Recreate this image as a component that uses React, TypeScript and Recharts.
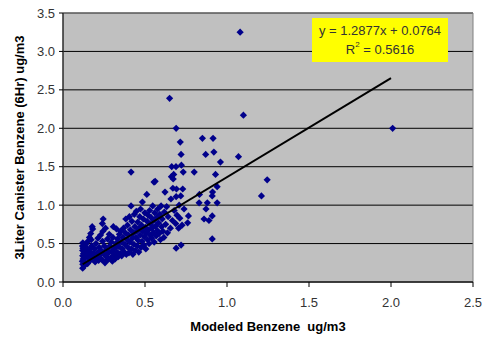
import { ScatterChart, Scatter, XAxis, YAxis, CartesianGrid, ReferenceArea } from 'recharts'

// Modeled benzene (x) vs 3L canister benzene (y), ug/m3
const lowCluster: [number, number][] = [
  [0.12, 0.18], [0.121, 0.23], [0.118, 0.27], [0.123, 0.3], [0.12, 0.34], [0.125, 0.37],
  [0.12, 0.41], [0.122, 0.44], [0.119, 0.47], [0.121, 0.51], [0.13, 0.21], [0.134, 0.26],
  [0.137, 0.33], [0.132, 0.4], [0.141, 0.45], [0.138, 0.49], [0.15, 0.24], [0.154, 0.31],
  [0.147, 0.36], [0.158, 0.42], [0.152, 0.53], [0.161, 0.58], [0.166, 0.28], [0.171, 0.34],
  [0.168, 0.39], [0.175, 0.47], [0.172, 0.55], [0.169, 0.63], [0.181, 0.69], [0.178, 0.72],
  [0.184, 0.3], [0.187, 0.37], [0.192, 0.43], [0.196, 0.26], [0.201, 0.5], [0.205, 0.32],
  [0.209, 0.38], [0.213, 0.57], [0.217, 0.28], [0.221, 0.45], [0.226, 0.35], [0.229, 0.61],
  [0.233, 0.41], [0.237, 0.29], [0.241, 0.53], [0.243, 0.66], [0.24, 0.76], [0.245, 0.82],
  [0.248, 0.37], [0.252, 0.47], [0.256, 0.25], [0.259, 0.7], [0.263, 0.33], [0.267, 0.42],
  [0.271, 0.56], [0.274, 0.29], [0.278, 0.38], [0.282, 0.62], [0.286, 0.47], [0.29, 0.31],
  [0.294, 0.52], [0.297, 0.4], [0.301, 0.27], [0.304, 0.58], [0.307, 0.72], [0.31, 0.35],
  [0.315, 0.44], [0.318, 0.3], [0.322, 0.5], [0.326, 0.69], [0.329, 0.39], [0.333, 0.56],
  [0.337, 0.33], [0.341, 0.46], [0.344, 0.62], [0.348, 0.37], [0.351, 0.66], [0.355, 0.52],
]

const midCluster: [number, number][] = [
  [0.358, 0.34], [0.362, 0.43], [0.366, 0.58], [0.369, 0.7], [0.373, 0.39], [0.377, 0.49],
  [0.38, 0.64], [0.383, 0.82], [0.386, 0.36], [0.39, 0.55], [0.393, 0.74], [0.396, 0.45],
  [0.399, 0.61], [0.402, 0.38], [0.405, 0.85], [0.408, 0.52], [0.411, 0.68], [0.415, 0.99],
  [0.417, 0.43], [0.42, 0.79], [0.423, 0.57], [0.426, 0.36], [0.429, 0.64], [0.432, 0.49],
  [0.435, 0.88], [0.438, 0.72], [0.441, 0.41], [0.444, 0.58], [0.447, 0.92], [0.45, 0.66],
  [0.453, 0.47], [0.456, 0.78], [0.459, 0.54], [0.462, 0.39], [0.465, 0.7], [0.468, 0.85],
  [0.47, 0.61], [0.473, 0.95], [0.476, 0.45], [0.479, 0.74], [0.482, 0.53], [0.484, 1.04],
  [0.487, 0.66], [0.49, 0.82], [0.493, 0.48], [0.496, 0.59], [0.499, 0.9], [0.502, 0.71],
  [0.505, 0.43], [0.508, 0.64], [0.511, 1.14], [0.513, 0.79], [0.516, 0.55], [0.519, 0.87],
  [0.522, 0.68], [0.525, 0.5], [0.528, 0.93], [0.531, 0.61], [0.534, 0.75], [0.537, 0.84],
  [0.54, 0.57], [0.543, 0.7], [0.547, 0.99], [0.55, 0.64], [0.553, 0.8], [0.556, 0.52],
  [0.559, 0.9], [0.562, 1.31], [0.565, 0.73], [0.568, 0.6], [0.572, 0.84], [0.575, 0.67],
  [0.578, 0.95], [0.582, 0.77], [0.586, 0.63], [0.59, 0.88], [0.594, 0.55], [0.598, 0.99],
  [0.601, 0.72], [0.605, 0.82], [0.609, 0.66],
]

const upperSpread: [number, number][] = [
  [0.615, 0.58], [0.618, 0.91], [0.622, 1.17], [0.626, 0.75], [0.632, 0.98], [0.637, 0.64],
  [0.641, 0.85], [0.65, 2.39], [0.655, 0.7], [0.658, 1.08], [0.661, 1.37], [0.663, 1.5],
  [0.667, 0.8], [0.67, 1.22], [0.672, 1.34], [0.675, 1.4], [0.678, 0.93], [0.69, 0.44],
  [0.687, 0.76], [0.69, 1.11], [0.692, 1.21], [0.689, 1.5], [0.69, 2.0], [0.695, 0.87],
  [0.705, 0.7], [0.708, 1.0], [0.712, 0.83], [0.72, 0.48], [0.718, 1.12], [0.722, 1.52],
  [0.72, 1.66], [0.715, 1.82], [0.726, 0.74], [0.73, 1.21], [0.733, 1.43], [0.738, 0.95],
  [0.76, 0.77], [0.765, 0.86], [0.8, 1.43], [0.83, 1.03], [0.832, 1.14], [0.85, 1.87],
  [0.87, 1.66], [0.872, 0.95], [0.86, 0.82], [0.88, 1.03], [0.89, 0.8], [0.91, 0.86],
  [0.91, 1.12], [0.912, 1.17], [0.91, 0.56], [0.915, 1.87], [0.92, 1.69], [0.93, 1.4],
  [0.94, 1.24], [0.94, 1.03], [0.96, 1.56], [0.415, 1.43], [0.555, 1.3], [1.07, 1.63],
  [1.08, 3.25], [1.1, 2.17], [1.21, 1.12], [1.245, 1.33], [2.01, 2.0],
]

const slope = 1.2877
const intercept = 0.0764
const trendRange = [0.12, 2.0]

const xTicks = [0, 0.5, 1, 1.5, 2, 2.5]
const yTicks = [0, 0.5, 1, 1.5, 2, 2.5, 3, 3.5]

const points = [...lowCluster, ...midCluster, ...upperSpread].map(([x, y]) => ({ x, y }))
const trend = trendRange.map((x) => ({ x, y: slope * x + intercept }))

const Diamond = (props: any) => {
  const { cx, cy } = props
  const r = 3.6
  return <polygon points={`${cx},${cy - r} ${cx + r},${cy} ${cx},${cy + r} ${cx - r},${cy}`} fill="#00008B" />
}

const YTitle = ({ viewBox }: any) => {
  const cy = viewBox.y + viewBox.height / 2
  return (
    <text x={19} y={cy} transform={`rotate(-90, 19, ${cy})`} textAnchor="middle" dominantBaseline="central"
      fontSize={13} fontWeight="bold" fill="#000" fontFamily="Liberation Sans, Arial, sans-serif">
      3Liter Canister Benzene (6Hr) ug/m3
    </text>
  )
}

const XTitle = ({ viewBox }: any) => {
  const cx = viewBox.x + viewBox.width / 2
  return (
    <text x={cx} y={331} textAnchor="middle" fontSize={13} fontWeight="bold" fill="#000"
      fontFamily="Liberation Sans, Arial, sans-serif">
      {'Modeled Benzene\u00a0\u00a0ug/m3'}
    </text>
  )
}

export default function App() {
  const tick = { fontSize: 13, fill: '#333', fontFamily: 'Liberation Sans, Arial, sans-serif' }
  return (
    <div style={{ position: 'absolute', left: 0, top: 0, width: 485, height: 339, background: '#fff' }}>
      <ScatterChart width={485} height={339} margin={{ top: 13, right: 12, bottom: 7, left: 0 }}>
        <CartesianGrid vertical={false} stroke="#000" fill="#C0C0C0" fillOpacity={1} strokeOpacity={1} />
        <ReferenceArea x1={0} x2={2.5} y1={0} y2={3.5} fill="none" stroke="#808080" strokeWidth={1} ifOverflow="visible" />
        <XAxis type="number" dataKey="x" domain={[0, 2.5]} ticks={xTicks} tickFormatter={(v) => v.toFixed(1)}
          height={50} tick={tick} tickSize={5} tickMargin={11} stroke="#000" label={<XTitle />} />
        <YAxis type="number" dataKey="y" domain={[0, 3.5]} ticks={yTicks} tickFormatter={(v) => v.toFixed(1)}
          width={63} tick={tick} tickSize={4} tickMargin={4} stroke="#000" label={<YTitle />} />
        <Scatter data={points} shape={<Diamond />} isAnimationActive={false} />
        <Scatter data={trend} line={{ stroke: '#000', strokeWidth: 2 }} shape={() => null}
          isAnimationActive={false} />
      </ScatterChart>
      <div style={{
        position: 'absolute', left: 312, top: 18, width: 136, height: 44, background: '#FFFF00',
        fontFamily: 'Liberation Sans, Arial, sans-serif', fontSize: 13, color: '#333', textAlign: 'center',
        lineHeight: '19px', paddingTop: 3, boxSizing: 'border-box',
      }}>
        <div>y = 1.2877x + 0.0764</div>
        <div>R<sup style={{ fontSize: 8, verticalAlign: 'top', lineHeight: '10px' }}>2</sup> = 0.5616</div>
      </div>
    </div>
  )
}
